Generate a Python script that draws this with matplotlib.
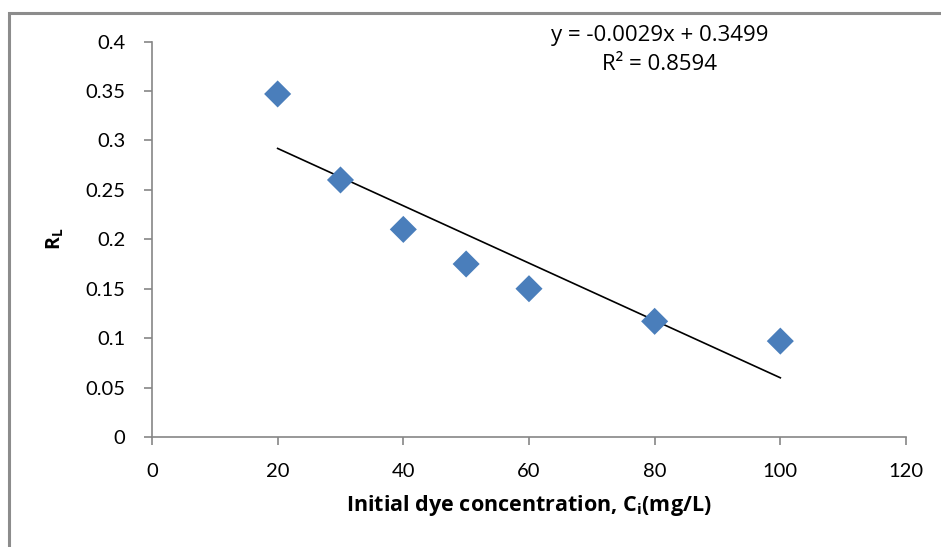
import numpy as np
import matplotlib.pyplot as plt
from matplotlib.patches import Rectangle

plt.rcParams['font.family'] = ['Lato', 'DejaVu Sans']
plt.rcParams['mathtext.fontset'] = 'custom'
plt.rcParams['mathtext.rm'] = 'Open Sans'
plt.rcParams['mathtext.bf'] = 'Open Sans:bold'

# data
conc = [20, 30, 40, 50, 60, 80, 100]
rl = [0.347, 0.260, 0.210, 0.175, 0.150, 0.117, 0.097]

# trend line as printed on the chart
slope, intercept, r2 = -0.0029, 0.3499, 0.8594

x_ticks = [0, 20, 40, 60, 80, 100, 120]
y_ticks = [0, 0.05, 0.1, 0.15, 0.2, 0.25, 0.3, 0.35, 0.4]
y_labels = ['0', '0.05', '0.1', '0.15', '0.2', '0.25', '0.3', '0.35', '0.4']

fig = plt.figure(figsize=(9.41, 5.47), dpi=100)
ax = fig.add_axes([0.1615, 0.2011, 0.8013, 0.7229])

# outer chart frame
fig.patches.append(Rectangle((9/941, -0.05), 1.0, 1.05 - 13/547, transform=fig.transFigure,
                             fill=False, edgecolor='#8c8c8c', linewidth=2.2, clip_on=False))

ax.scatter(conc, rl, marker='D', s=190, color='#4a7ebb', edgecolors='none', zorder=3)
xl = np.array([min(conc), max(conc)])
ax.plot(xl, slope * xl + intercept, color='black', linewidth=1.2, zorder=2)

ax.set_xlim(0, 120)
ax.set_ylim(0, 0.4)
ax.set_xticks(x_ticks)
ax.set_yticks(y_ticks)
ax.set_yticklabels(y_labels)

for s in ['top', 'right']:
    ax.spines[s].set_visible(False)
for s in ['left', 'bottom']:
    ax.spines[s].set_color('#868686')
    ax.spines[s].set_linewidth(1.2)

ax.tick_params(axis='both', colors='#868686', labelcolor='black', labelsize=14.5,
               direction='out', length=6, width=1.2)
ax.tick_params(axis='y', pad=13)
ax.tick_params(axis='x', pad=13)

ax.set_xlabel(r'Initial dye concentration, C$_\mathbf{i}$(mg/L)', fontsize=15.5,
              fontweight='bold', family='Open Sans', labelpad=9)
ax.set_ylabel(r'R$_\mathbf{L}$', fontsize=14, fontweight='bold', family='Open Sans',
              labelpad=14)

fig.text(660/941, 1 - 35/547, 'y = -0.0029x + 0.3499', ha='center', va='center',
         fontsize=16, family='Open Sans')
fig.text(660/941, 1 - 64/547, 'R\u00b2 = 0.8594', ha='center', va='center',
         fontsize=16, family='Open Sans')

fig.savefig('out.png', dpi=100)
